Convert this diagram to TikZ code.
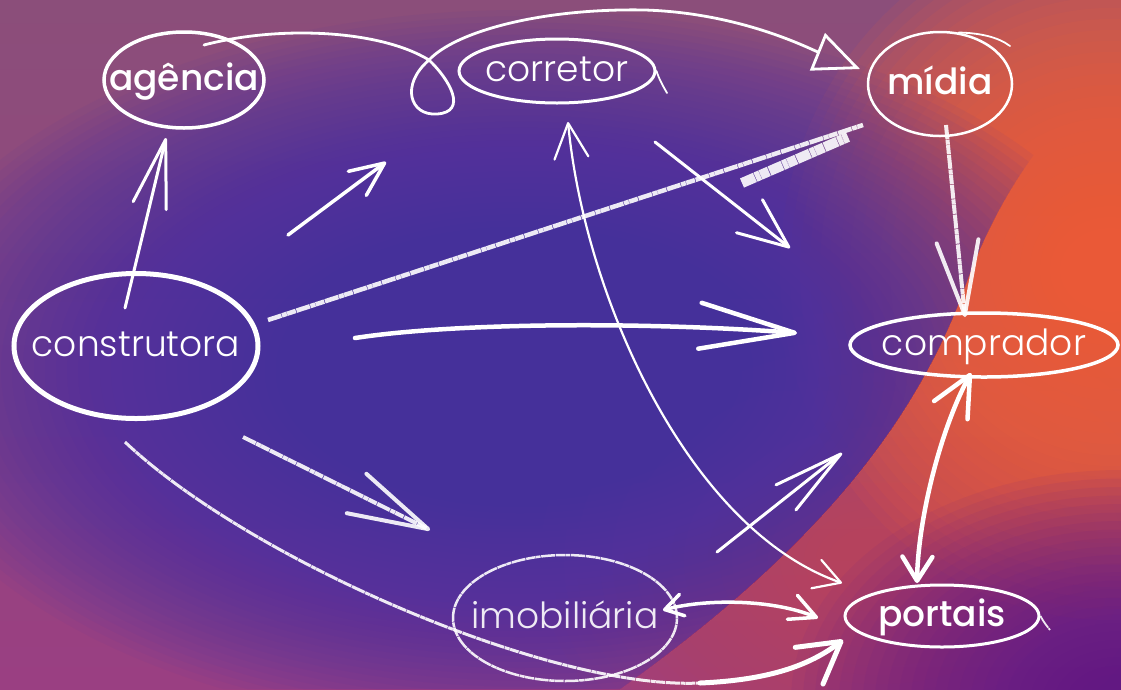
\documentclass[tikz,border=0pt]{standalone}
\usepackage{fontspec}
\newfontfamily\lightfont{Poppins Light}
\newfontfamily\medfont{Poppins Medium}
\usepackage{tikz}
\usetikzlibrary{shapes.geometric}
\usetikzlibrary{arrows.meta}
\usepackage{xcolor}

\definecolor{topmauve}{HTML}{8B4E7A}
\definecolor{midviolet}{HTML}{5837A0}
\definecolor{bottompink}{HTML}{9A3F82}
\definecolor{blobblue}{HTML}{4530AA}
\definecolor{glowred}{HTML}{C8465A}
\definecolor{gloworange}{HTML}{F56437}
\definecolor{cornerpurple}{HTML}{5C1890}

\newcommand{\ntext}[1]{\makebox[0pt]{#1}}

\begin{document}
\begin{tikzpicture}[x=1pt,y=-1pt,
  bubble/.style={ellipse,draw=white,text=white,inner sep=0pt,text height=20pt,text depth=0pt},
  light/.style={font=\lightfont\fontsize{36}{40}\selectfont},
  heavy/.style={font=\medfont\fontsize{36}{40}\selectfont},
  penline/.style={white,line width=#1,line cap=round,line join=round},
  chalk/.style={white,opacity=.9,line width=#1,dash pattern=on 14pt off .7pt on 5pt off .5pt on 9pt off .8pt},
  hbarb/.style 2 args={-{Straight Barb[round,length=#1,width=#2]}}]
\path[use as bounding box] (0,0) rectangle (1121,689);
\clip (0,0) rectangle (1121,689);

% background
\shade[top color=topmauve,middle color=midviolet,bottom color=bottompink] (0,0) rectangle (1121,689);
\foreach \k in {0,...,24}
  \fill[glowred,opacity=.05] (880,560) ellipse ({340-12*\k} and {250-9*\k});
\foreach \k in {0,...,29}
  \fill[gloworange,opacity=.09] (1110,270) ellipse ({330-10*\k} and {350-11*\k});
\foreach \k in {0,...,24}
  \fill[cornerpurple,opacity=.07] (1121,700) ellipse ({330-12*\k} and {230-8.5*\k});
\begin{scope}
 \clip (0,0) -- (1121,0) -- (1121,60) .. controls (1020,150) and (985,230) .. (960,300)
   .. controls (905,440) and (800,560) .. (620,689) -- (0,689) -- cycle;
 \foreach \k in {0,...,39}
   \fill[blobblue,opacity=.06] (520,370) ellipse ({640-11*\k} and {360-6.2*\k});
\end{scope}

% nodes
\node[bubble,light,line width=5pt,minimum width=244pt,minimum height=145pt] (construtora) at (136,346) {\ntext{construtora}};
\node[bubble,heavy,line width=3.5pt,minimum width=160pt,minimum height=96pt] (agencia) at (184,80) {\ntext{agência}};
\node[bubble,light,line width=3pt,minimum width=196pt,minimum height=64pt] (corretor) at (557,71) {\ntext{corretor}};
\node[bubble,heavy,line width=2.5pt,minimum width=144pt,minimum height=104pt] (midia) at (940,84) {\ntext{mídia}};
\node[bubble,light,line width=3.5pt,minimum width=268pt,minimum height=64pt] (comprador) at (984,345) {\ntext{comprador}};
\node[bubble,heavy,line width=3pt,minimum width=194pt,minimum height=62pt] (portais) at (942,616) {\ntext{portais}};
\node[bubble,light,chalk=2.5pt,minimum width=224pt,minimum height=126pt] (imobiliaria) at (565,618) {\ntext{imobiliária}};

% overshooting ends of the hand-drawn rings
\draw[penline=1.8pt] (corretor.east) .. controls (659,79) and (663,86) .. (667,93);
\draw[penline=1.8pt] (midia.70) .. controls (980,33) and (998,37) .. (1010,46);
\draw[chalk=1.8pt] (portais.east) .. controls (1043,621) and (1046,625) .. (1050,630);

% free ends of the connectors
\coordinate (ag-from) at (125,308);   \coordinate (ag-to) at (166,138);
\coordinate (co-from) at (288,235);   \coordinate (co-to) at (386,162);
\coordinate (br-from) at (268,320);   \coordinate (br-to) at (863,125);
\coordinate (br-a) at (742,183);      \coordinate (br-b) at (848,137);
\coordinate (cp-from) at (355,338);   \coordinate (cp-to) at (797,333);
\coordinate (cc-from) at (655,142);   \coordinate (cc-to) at (790,248);
\coordinate (mc-from) at (946,125);   \coordinate (mc-to) at (965,317);
\coordinate (loop-start) at (204,45); \coordinate (loop-x) at (429,60);  \coordinate (loop-end) at (860,69);
\coordinate (rp-top) at (568,122);    \coordinate (rp-bot) at (842,583);
\coordinate (cb-top) at (971,373);    \coordinate (cb-bot) at (917,583);
\coordinate (ic-from) at (717,552);   \coordinate (ic-to) at (842,453);
\coordinate (ip-left) at (663,610);   \coordinate (ip-right) at (818,618);
\coordinate (cpo-from) at (125,442);  \coordinate (cpo-mid) at (700,683); \coordinate (cpo-to) at (843,640);
\coordinate (ci-from) at (243,437);   \coordinate (ci-to) at (430,530);

% arrows
\draw[penline=3pt,hbarb={68pt}{34pt}] (ag-from) -- (ag-to);
\draw[penline=3.5pt,hbarb={34pt}{30pt}] (co-from) -- (co-to);
\draw[chalk=4.5pt] (br-from) -- (br-to);
\draw[chalk=10pt] (br-a) -- (br-b);
\draw[penline=4.5pt,hbarb={95pt}{46pt}] (cp-from) .. controls (460,322) and (650,322) .. (cp-to);
\draw[penline=3pt,hbarb={50pt}{42pt}] (cc-from) -- (cc-to);
\draw[chalk=4pt,hbarb={74pt}{42pt}] (mc-from) -- (mc-to);
\draw[penline=2.8pt,-{Triangle[open,length=46pt,width=40pt]}] (loop-start) .. controls (280,25) and (380,30) .. (loop-x)
   .. controls (450,80) and (468,112) .. (437,114) .. controls (410,116) and (400,85) .. (loop-x)
   .. controls (455,32) and (540,8) .. (645,10) .. controls (740,13) and (808,48) .. (loop-end);
\draw[penline=2.2pt,{Straight Barb[round,length=35pt,width=34pt]}-{Straight Barb[round,length=26pt,width=30pt]}]
   (rp-top) .. controls (585,300) and (690,530) .. (rp-bot);
\draw[penline=4.5pt,{Straight Barb[round,length=40pt,width=38pt]}-{Straight Barb[round,length=24pt,width=30pt]}]
   (cb-top) .. controls (940,430) and (918,520) .. (cb-bot);
\draw[penline=3pt,hbarb={70pt}{32pt}] (ic-from) -- (ic-to);
\draw[penline=3.5pt,{Straight Barb[round,length=18pt,width=22pt]}-{Straight Barb[round,length=26pt,width=26pt]}]
   (ip-left) .. controls (710,598) and (775,600) .. (ip-right);
\draw[chalk=3pt] (cpo-from) .. controls (250,560) and (550,690) .. (cpo-mid);
\draw[penline=5pt,hbarb={40pt}{46pt}] (cpo-mid) .. controls (770,680) and (810,665) .. (cpo-to);
\draw[chalk=4pt,hbarb={80pt}{44pt}] (ci-from) -- (ci-to);
\end{tikzpicture}
\end{document}
